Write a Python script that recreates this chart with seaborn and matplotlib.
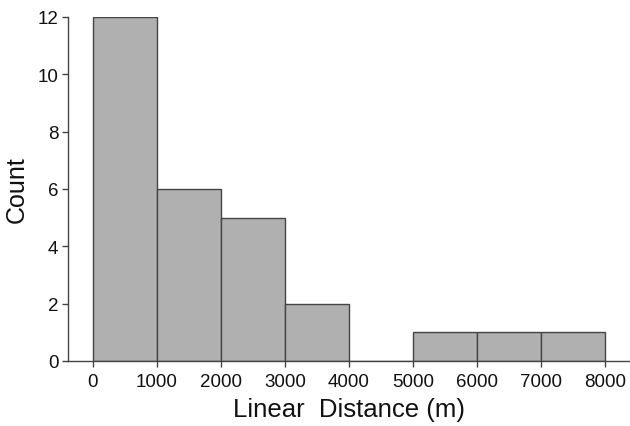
import numpy as np
import pandas as pd
import matplotlib
matplotlib.use("Agg")
import matplotlib.pyplot as plt
import seaborn as sns

bin_edges = [0, 1000, 2000, 3000, 4000, 5000, 6000, 7000, 8000]
bin_centers = [500, 1500, 2500, 3500, 4500, 5500, 6500, 7500]
counts = [12, 6, 5, 2, 0, 1, 1, 1]
x_ticks = [0, 1000, 2000, 3000, 4000, 5000, 6000, 7000, 8000]
y_ticks = [0, 2, 4, 6, 8, 10, 12]

sns.set_style("ticks")
plt.rcParams['font.family'] = ['Liberation Sans', 'DejaVu Sans']

df = pd.DataFrame({"dist": bin_centers, "n": counts})

fig = plt.figure(figsize=(6.3, 4.27), dpi=100)
ax = fig.add_axes([68/630, 65/427, 562/630, 344/427])
sns.histplot(data=df, x="dist", weights="n", bins=bin_edges, ax=ax,
             color="#b0b0b0", edgecolor="#444444", linewidth=1.0, alpha=1.0)

ax.set_xlim(-390, 8390)
ax.set_ylim(0, 12)
ax.set_xticks(x_ticks)
ax.set_yticks(y_ticks)
ax.tick_params(axis='both', labelsize=13.5, length=4, width=1, color="#444444",
               labelcolor="#111111", direction='out')
ax.tick_params(axis='x', pad=5)
ax.tick_params(axis='y', pad=3)
ax.set_xlabel("Linear  Distance (m)", fontsize=18.5, labelpad=5, color="#111111")
ax.set_ylabel("Count", fontsize=18, labelpad=6, color="#111111")
for s in ["top", "right"]:
    ax.spines[s].set_visible(False)
for s in ["left", "bottom"]:
    ax.spines[s].set_color("#444444")
    ax.spines[s].set_linewidth(1.0)

fig.savefig("out.png", dpi=100)
